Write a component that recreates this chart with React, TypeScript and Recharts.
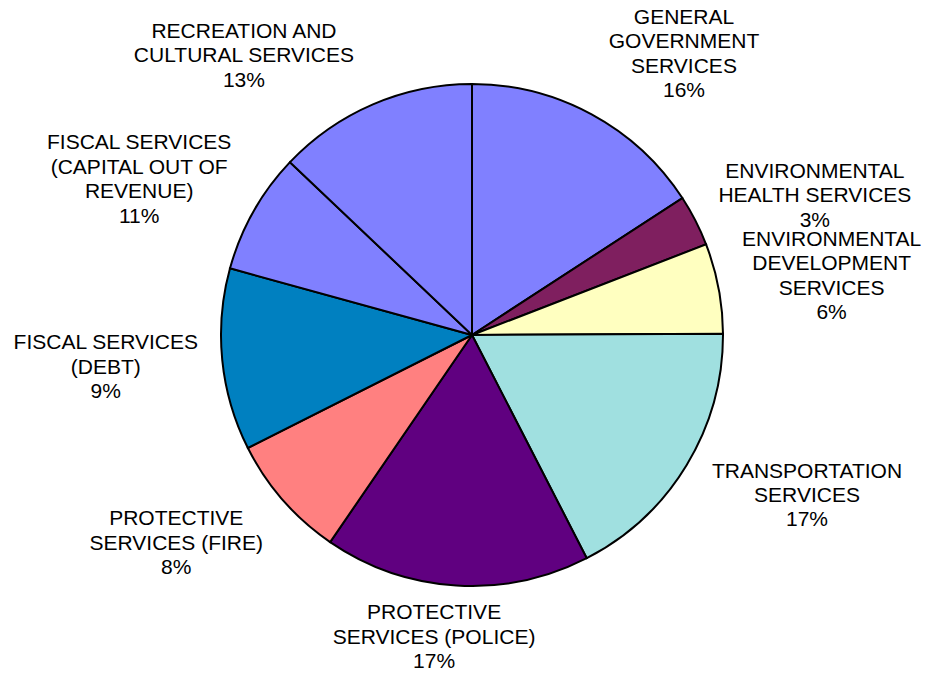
import React from "react";
import { PieChart, Pie, Cell } from "recharts";

const categories = [
  "GENERAL\nGOVERNMENT\nSERVICES",
  "ENVIRONMENTAL\nHEALTH SERVICES",
  "ENVIRONMENTAL\nDEVELOPMENT\nSERVICES",
  "TRANSPORTATION\nSERVICES",
  "PROTECTIVE\nSERVICES (POLICE)",
  "PROTECTIVE\nSERVICES (FIRE)",
  "FISCAL SERVICES\n(DEBT)",
  "FISCAL SERVICES\n(CAPITAL OUT OF\nREVENUE)",
  "RECREATION AND\nCULTURAL SERVICES",
];

// slice sizes as drawn (percent of pie)
const values = [15.8, 3.3, 5.8, 17.5, 17.1, 8.0, 11.7, 7.8, 12.9];

// percentages as printed on the labels
const percentLabels = ["16%", "3%", "6%", "17%", "17%", "8%", "9%", "11%", "13%"];

const colors = [
  "#8080FF",
  "#7F1F5F",
  "#FFFFC0",
  "#A0E0E0",
  "#600080",
  "#FF8080",
  "#0080C0",
  "#8080FF",
  "#8080FF",
];

// label nudges from the radial anchor (layout only)
const labelNudges: [number, number][] = [
  [38, 39],
  [18, 26],
  [1, 8],
  [23, -30],
  [-15, -63],
  [-21, -33],
  [-3, -5],
  [-15, 23],
  [-84, 55],
];

const data = categories.map((name, i) => ({ name, value: values[i], pct: percentLabels[i] }));

const RAD = Math.PI / 180;
const LINE_H = 24.4;

const renderLabel = (props: any) => {
  const { cx, cy, midAngle, outerRadius, index } = props;
  const r = outerRadius + 114;
  const x0 = cx + Math.cos(-midAngle * RAD) * r;
  const y0 = cy + Math.sin(-midAngle * RAD) * r;
  const [nx, ny] = labelNudges[index];
  const lines = [...categories[index].split("\n"), percentLabels[index]];
  const x = x0 + nx;
  const yc = y0 + ny;
  const firstBaseline = yc - ((lines.length - 1) * LINE_H) / 2 + 7.5;
  return (
    <text
      key={`lbl-${index}`}
      x={x}
      y={firstBaseline}
      textAnchor="middle"
      fill="#000"
      fontFamily="'Liberation Sans', Arial, sans-serif"
      fontSize={21}
    >
      {lines.map((l, i) => (
        <tspan key={i} x={x} y={firstBaseline + i * LINE_H}>
          {l}
        </tspan>
      ))}
    </text>
  );
};

export default function App() {
  return (
    <div style={{ position: "absolute", left: 0, top: 0, width: 931, height: 677, background: "#fff" }}>
      <PieChart width={931} height={677} margin={{ top: 0, right: 0, bottom: 0, left: 0 }}>
        <Pie
          data={data}
          dataKey="value"
          nameKey="name"
          cx={472}
          cy={335}
          outerRadius={251}
          startAngle={90}
          endAngle={-270}
          stroke="#000"
          strokeWidth={2}
          labelLine={false}
          label={renderLabel}
          isAnimationActive={false}
        >
          {data.map((d, i) => (
            <Cell key={d.name} fill={colors[i]} stroke="#000" strokeWidth={2} />
          ))}
        </Pie>
      </PieChart>
    </div>
  );
}
